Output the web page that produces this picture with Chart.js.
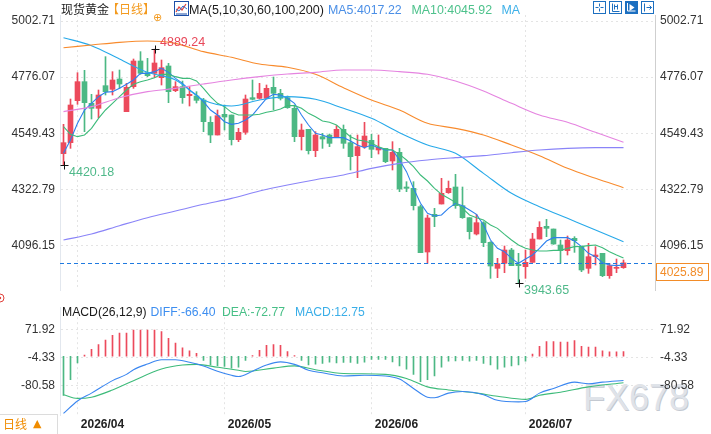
<!DOCTYPE html>
<html><head><meta charset="utf-8">
<script src="https://cdn.jsdelivr.net/npm/chart.js@4.4.1/dist/chart.umd.min.js"></script>
<style>
html,body{margin:0;padding:0;background:#fff;width:711px;height:434px;overflow:hidden;font-family:"Liberation Sans","Noto Sans CJK SC",sans-serif;}
#wrap{position:relative;width:711px;height:434px;}
canvas{position:absolute;left:0;}
.t{position:absolute;font-size:12.4px;line-height:14px;white-space:nowrap;z-index:5;}
.cjk{font-family:"Noto Sans CJK SC",sans-serif;font-size:12px;}
#wm{position:absolute;left:583px;top:379.5px;font-size:36px;line-height:36px;color:#dfe3e9;text-shadow:1px 1px 0 #c4c9d1;z-index:0;font-family:"Liberation Sans",sans-serif;}
#dbox{position:absolute;left:0;top:414px;width:58px;height:20px;border-top:1px solid #dcdcdc;border-right:1px solid #dcdcdc;box-sizing:border-box;z-index:5;}
</style></head>
<body><div id="wrap">
<div id="wm">FX678</div>
<canvas id="price" width="711" height="434" style="top:0"></canvas>
<canvas id="macd" width="711" height="139" style="top:295px"></canvas>

<span class="t cjk" style="left:61px;top:2px;color:#1a1a1a">现货黄金</span>
<span class="t cjk" style="left:107px;top:2px;color:#f39a1e">【日线】</span>
<span class="t" style="left:153px;top:11px;color:#f39a1e;font-size:11px;font-family:'DejaVu Sans'">⊕</span>
<svg style="position:absolute;left:174px;top:1px;z-index:5" width="15" height="15">
  <rect x="0.5" y="0.5" width="14" height="14" fill="#fff" stroke="#1c4fa8"/>
  <polyline points="2,11 5,6 8,9 12,3" fill="none" stroke="#e0403a" stroke-width="1.2"/>
  <polyline points="2,8 5,10 9,5 13,8" fill="none" stroke="#2a6fd0" stroke-width="1"/>
  <line x1="2" y1="13" x2="13" y2="13" stroke="#1c4fa8"/>
</svg>
<span class="t" style="left:189px;top:3px;color:#1a1a1a;font-size:12.5px">MA(5,10,30,60,100,200)</span>
<span class="t" style="left:328px;top:3px;color:#4b8fe6">MA5:4017.22</span>
<span class="t" style="left:411.5px;top:3px;color:#4ec28c">MA10:4045.92</span>
<span class="t" style="left:501.5px;top:3px;color:#3fb1e8">MA</span>

<svg style="position:absolute;left:592px;top:0;z-index:5" width="63" height="15">
  <g fill="none" stroke="#1c6fc0" stroke-width="1">
    <rect x="1.5" y="1.5" width="12" height="12"/>
    <rect x="17.5" y="1.5" width="12" height="12"/>
    <rect x="49.5" y="1.5" width="12" height="12"/>
    <path d="M7.5 3.5v3M7.5 8.5v3M3.5 7.5h3M8.5 7.5h3" />
    <path d="M20.5 3.5v8h7M22.5 4.5v5M25.5 4.5v5M22.5 6.5h3" />
    <path d="M52.5 3.5v8M54.5 7.5h5M57.5 5.5l2 2l-2 2" />
  </g>
  <rect x="33" y="1" width="13" height="13" fill="#1c6fc0"/>
  <path d="M35.5 3v8h8" fill="none" stroke="#fff"/>
  <path d="M37.5 4l5 3.5l-5 3.5z" fill="#fff"/>
</svg>

<svg style="position:absolute;left:0;top:292px;z-index:5" width="6" height="12">
  <circle cx="0" cy="6" r="4" fill="none" stroke="#e0403a"/>
  <circle cx="0" cy="6" r="1.2" fill="#e0403a"/>
</svg>
<span class="t" style="left:62px;top:305px;color:#1a1a1a;font-size:12.2px">MACD(26,12,9)</span>
<span class="t" style="left:150.5px;top:305px;color:#3d8ef0;font-size:12.2px">DIFF:-66.40</span>
<span class="t" style="left:222px;top:305px;color:#47bf86;font-size:12.2px">DEA:-72.77</span>
<span class="t" style="left:295px;top:305px;color:#3aaee8;font-size:12.2px">MACD:12.75</span>

<div id="dbox"></div>
<span class="t cjk" style="left:3px;top:417px;color:#f08c00">日线</span>
<span class="t" style="left:33px;top:417px;color:#f08c00;font-size:11px;font-family:'DejaVu Sans'">▲</span>
</div>
<script>
// ---------- categories (trading days) ----------
const dates = [];
(function () {
  let t = Date.UTC(2026, 2, 30);
  const end = Date.UTC(2026, 6, 21);
  while (t <= end) {
    const d = new Date(t);
    const wd = d.getUTCDay();
    const s = d.toISOString().slice(0, 10);
    if (wd !== 0 && wd !== 6 && s !== '2026-04-03') dates.push(s);
    t += 86400000;
  }
})();
const padLabels = ['p1', 'p2', 'p3', 'p4'];
const labels = dates.concat(padLabels);

// ---------- price data ----------
const opens = [4467.0,4511.4,4681.1,4757.9,4670.3,4650.1,4741.7,4726.9,4768.6,4636.7,
4737.7,4841.4,4794.2,4791.5,4774.0,4821.2,4721.5,4737.7,4701.3,4700.0,
4683.8,4593.6,4542.4,4625.9,4623.2,4523.5,4553.2,4693.2,4690.5,4690.5,
4735.0,4710.7,4693.2,4650.1,4535.7,4565.3,4479.1,4535.7,4542.4,4535.7,
4565.3,4511.4,4458.9,4495.3,4520.8,4481.8,4488.5,4437.4,4472.4,4332.3,
4326.9,4252.9,4069.7,4221.9,4263.6,4309.4,4332.3,4256.9,4208.4,4142.4,
4188.2,4108.8,4003.7,4023.9,4077.8,4019.9,4010.4,4027.9,4122.2,4173.4,
4162.6,4098.0,4075.1,4124.9,4092.6,4003.7,4050.8,4064.3,3974.1,4003.7,
4006.4];
const highs = [4585.5,4687.8,4794.2,4803.6,4706.7,4724.2,4858.9,4798.3,4805.0,4751.1,
4849.4,4879.1,4852.1,4889.24,4845.4,4831.9,4757.9,4760.5,4737.7,4717.5,
4690.5,4616.5,4643.4,4663.6,4623.2,4569.3,4704.0,4764.6,4751.1,4744.4,
4776.7,4726.9,4700.0,4663.6,4586.8,4565.3,4555.9,4549.1,4546.4,4580.1,
4582.8,4542.4,4542.4,4593.6,4545.1,4542.4,4488.5,4515.5,4488.5,4353.8,
4353.8,4259.6,4219.2,4246.1,4367.3,4356.5,4383.5,4332.3,4208.4,4221.9,
4192.2,4111.5,4044.1,4093.9,4084.5,4064.3,4077.8,4145.1,4192.2,4201.7,
4162.6,4118.2,4134.3,4131.7,4092.6,4104.7,4091.3,4064.3,4023.9,4041.4,
4037.4];
const lows = [4420.18,4488.5,4666.3,4555.9,4607.0,4612.4,4704.0,4704.0,4730.9,4636.7,
4730.9,4787.5,4778.1,4774.0,4744.4,4673.0,4717.5,4670.3,4659.5,4671.7,
4555.9,4511.4,4542.4,4562.6,4502.0,4515.5,4545.1,4683.8,4687.8,4687.8,
4643.4,4683.8,4650.1,4515.5,4481.8,4465.6,4454.9,4488.5,4495.3,4531.6,
4488.5,4401.0,4370.0,4488.5,4450.8,4465.6,4430.6,4401.0,4313.4,4313.4,
4239.4,4067.0,4023.9,4172.0,4263.6,4306.7,4246.1,4205.7,4122.2,4138.4,
4091.3,3963.3,3966.0,3986.2,4014.5,3943.65,3963.3,4027.9,4122.2,4131.7,
4100.7,4023.9,4057.6,4068.3,3990.2,3983.5,4017.2,3970.1,3963.3,3986.2,
4003.7];
const closes = [4511.4,4663.6,4757.9,4673.0,4650.1,4704.0,4717.5,4764.6,4748.4,4735.0,
4841.4,4791.5,4782.1,4833.3,4814.4,4717.5,4737.7,4693.2,4706.7,4682.4,
4596.3,4542.4,4620.5,4615.1,4523.5,4553.2,4687.8,4686.5,4710.7,4730.9,
4710.7,4690.5,4652.8,4535.7,4562.6,4479.1,4542.4,4526.2,4508.7,4565.3,
4508.7,4454.9,4495.3,4538.3,4484.5,4492.6,4434.7,4472.4,4324.2,4326.9,
4256.9,4067.0,4207.1,4212.4,4306.7,4326.9,4256.9,4208.4,4151.8,4188.2,
4107.4,4013.1,4022.5,4077.8,4014.5,4014.5,4027.9,4122.2,4169.4,4165.3,
4102.0,4075.1,4118.2,4115.5,3997.0,4050.8,4057.6,3974.1,4014.5,4006.4,
4025.89];

// ---------- moving averages ----------
const ma5 = [4468.3,4522.2,4589.5,4643.4,4670.3,4697.3,4714.8,4717.5,4730.9,4747.1,
4764.6,4791.5,4791.5,4798.3,4811.7,4795.6,4771.3,4751.1,4724.2,4704.0,
4677.1,4643.4,4623.2,4596.3,4585.5,4589.5,4603.0,4623.2,4656.9,4690.5,
4706.7,4704.0,4690.5,4670.3,4623.2,4582.8,4549.1,4542.4,4531.6,4531.6,
4531.6,4518.1,4502.0,4491.2,4502.0,4491.2,4481.8,4481.8,4441.4,4394.3,
4326.9,4266.3,4225.9,4215.1,4219.2,4246.1,4266.3,4256.9,4239.4,4221.9,
4178.8,4118.2,4084.5,4071.1,4044.1,4023.9,4041.4,4057.6,4084.5,4114.1,
4127.6,4127.6,4127.6,4114.1,4091.3,4064.3,4050.8,4026.6,4017.2,4014.5,
4017.22];
const ma10 = [4576.1,4545.1,4535.7,4542.4,4569.3,4609.7,4643.4,4670.3,4697.3,4724.2,
4747.1,4757.9,4764.6,4774.0,4787.5,4787.5,4778.1,4771.3,4771.3,4760.6,
4730.9,4697.3,4670.3,4656.9,4634.0,4623.2,4623.2,4623.2,4625.9,4634.0,
4639.4,4647.4,4660.9,4660.9,4650.1,4629.9,4616.5,4599.0,4593.6,4582.8,
4558.5,4535.7,4522.2,4518.1,4508.7,4495.3,4484.5,4481.8,4464.3,4441.4,
4414.5,4380.8,4356.5,4326.9,4302.7,4286.5,4270.4,4246.1,4219.2,4208.4,
4199.0,4178.8,4165.3,4141.1,4118.2,4098.0,4084.5,4077.8,4073.7,4073.7,
4076.4,4076.4,4084.5,4091.3,4092.6,4095.3,4098.0,4087.2,4071.1,4057.6,
4045.92];
const maIdx = [0,4,8,12,16,20,24,28,32,36,40,44,48,52,56,60,64,68,72,76,80];
const ma30 = [4935.6,4903.3,4849.4,4795.6,4764.6,4683.8,4659.6,4683.8,4697.3,4686.5,4650.1,4609.7,4551.8,4502.0,4468.3,4387.5,4306.7,4252.8,4205.7,4158.6,4111.4];
const ma60 = [4895.2,4906.0,4916.8,4922.2,4912.7,4879.1,4856.2,4829.2,4815.8,4787.5,4733.6,4683.8,4643.4,4589.5,4569.3,4542.4,4502.0,4458.9,4407.7,4367.3,4329.6];
const ma100 = [4636.7,4656.9,4693.2,4717.5,4730.9,4748.4,4764.6,4778.1,4788.8,4795.6,4805.0,4805.0,4798.3,4787.5,4760.6,4720.2,4670.3,4623.2,4593.6,4553.2,4512.8];
const ma200 = [4118.2,4142.4,4176.1,4208.4,4235.3,4262.3,4286.5,4316.1,4340.4,4361.9,4380.8,4407.7,4427.9,4441.4,4450.8,4458.9,4471.0,4481.8,4488.5,4491.2,4491.2];

// ---------- MACD ----------
const macdHist = [-107.0,-64.2,-18.0,3.4,18.8,31.7,44.5,57.3,63.3,63.3,
71.9,71.9,71.9,71.9,67.6,48.8,35.9,23.1,14.5,7.7,
-11.1,-24.0,-26.5,-28.2,-32.5,-29.9,-11.1,1.7,16.3,29.9,
31.7,29.9,12.8,1.7,-11.1,-24.0,-21.4,-19.7,-16.3,-18.0,
-17.1,-17.1,-19.7,-16.3,-8.6,-8.6,-8.6,-15.4,-26.5,-35.1,
-49.6,-69.3,-64.2,-53.9,-29.9,-13.7,-12.8,-11.1,-13.7,-11.1,
-19.7,-24.0,-35.1,-29.9,-26.5,-24.0,-13.7,6.0,27.4,40.2,
40.2,38.5,38.5,42.8,27.4,24.8,24.8,14.5,12.0,12.0,
12.75];
const diffIdx = [0,2,4,7,9,10,12,14,16,18,20,22,24,25,27,29,31,33,35,37,40,43,46,48,50,52,53,55,57,60,62,65,66,68,70,73,75,77,80];
const diffVal = [-156.6,-122.4,-101.0,-66.8,-49.6,-36.8,-21.4,-9.4,-9.4,-16.3,-26.5,-41.1,-52.2,-55.6,-41.1,-24.0,-15.4,-22.3,-38.5,-45.4,-53.9,-52.2,-53.9,-62.5,-88.2,-112.1,-113.8,-101.0,-96.7,-105.3,-120.7,-125.0,-124.1,-101.0,-88.2,-71.0,-75.3,-71.0,-66.40];
const deaIdx = [0,2,4,7,10,14,17,19,22,25,26,30,33,36,40,46,49,52,55,59,62,66,68,71,75,80];
const deaVal = [-105.3,-115.5,-112.1,-92.4,-66.8,-35.1,-24.0,-22.3,-30.0,-38.5,-41.9,-32.5,-26.5,-36.8,-47.1,-49.6,-60.8,-83.9,-92.4,-101.0,-109.5,-118.1,-107.0,-98.4,-83.9,-72.77];

// ---------- tick labels ----------
const priceTicks = [5002.71, 4776.07, 4549.43, 4322.79, 4096.15];
const macdTicks = [71.92, -4.33, -80.58];

// ---------- helpers ----------
const FONT = '"Liberation Sans", "Noto Sans CJK SC", sans-serif';
Chart.defaults.font.family = FONT;
Chart.defaults.font.size = 12;
Chart.defaults.color = '#333';
const UP = '#ec4a5c', DOWN = '#4cb884';
const candleColor = closes.map((c, i) => c >= opens[i] ? UP : DOWN);
const monthStarts = [];
for (let i = 1; i < dates.length; i++) if (dates[i].slice(5, 7) !== dates[i - 1].slice(5, 7)) monthStarts.push(i);
const monthLabel = s => s.slice(0, 4) + '/' + s.slice(5, 7);
const sp = (idx, vals) => idx.map((k, j) => ({ x: labels[k], y: vals[j] }));
const lastPrice = closes[closes.length - 1];
const GRID = '#e4e4e4';

const xBase = (showTicks) => ({
  type: 'category', offset: true,
  grid: { offset: false, color: GRID, drawTicks: false },
  border: { display: false, dash: [2, 3] },
  afterBuildTicks: s => { s.ticks = monthStarts.map(v => ({ value: v })); },
  ticks: showTicks ? {
    display: true, autoSkip: false, maxRotation: 0, align: 'start', padding: 2,
    color: '#222', font: { size: 12, weight: 'bold', family: FONT },
    callback: v => ' ' + monthLabel(labels[v])
  } : { display: false },
  afterFit: s => { s.height = showTicks ? 19 : 0; }
});
const yAxis = (pos, min, max, tickVals, gridOn) => ({
  position: pos, min, max,
  afterBuildTicks: s => { s.ticks = tickVals.map(v => ({ value: v })); },
  afterFit: s => { s.width = pos === 'left' ? 60 : 56; },
  ticks: { padding: 5, color: '#333', font: { size: 12, family: FONT }, callback: v => Number(v).toFixed(2) },
  grid: { display: gridOn, color: GRID, drawTicks: false },
  border: pos === 'left' ? { display: true, color: '#e2e7ee', dash: [2, 3] } : { display: true, color: '#cfcfcf', dash: [1, 3] }
});

// ---------- price chart plugin: last price line, label box, extreme markers ----------
const priceMarks = {
  id: 'priceMarks',
  afterDatasetsDraw(chart) {
    const { ctx, chartArea: a, scales } = chart;
    const x = scales.x, y = scales.y;
    ctx.save();
    const ly = Math.round(y.getPixelForValue(lastPrice)) + 0.5;
    ctx.strokeStyle = '#1f7ae0'; ctx.lineWidth = 1; ctx.setLineDash([4, 3]);
    ctx.beginPath(); ctx.moveTo(a.left, ly); ctx.lineTo(a.right, ly); ctx.stroke();
    ctx.setLineDash([]);
    ctx.strokeStyle = '#f28c28';
    ctx.strokeRect(a.right + 1.5, ly, 52, 17);
    ctx.fillStyle = '#f28c28'; ctx.font = '12px ' + FONT; ctx.textBaseline = 'middle'; ctx.textAlign = 'left';
    ctx.fillText(lastPrice.toFixed(2), a.right + 5, ly + 9);

    const mark = (i, v, dy, color) => {
      const px = Math.round(x.getPixelForValue(i)) + 0.5;
      const py = Math.round(y.getPixelForValue(v)) + 0.5;
      ctx.strokeStyle = '#111'; ctx.lineWidth = 1;
      ctx.beginPath(); ctx.moveTo(px - 4, py); ctx.lineTo(px + 4, py);
      ctx.moveTo(px, py - 4); ctx.lineTo(px, py + 4); ctx.stroke();
      ctx.fillStyle = color; ctx.font = '12.5px ' + FONT;
      ctx.fillText(v.toFixed(2), px + 4.5, py + dy);
    };
    const iMax = highs.indexOf(Math.max(...highs));
    const iMin = lows.indexOf(Math.min(...lows));
    mark(iMax, highs[iMax], -7, '#e8485a');
    mark(0, lows[0], 7.5, '#4fb98a');
    mark(iMin, lows[iMin], 7, '#4fb98a');
    ctx.restore();
  }
};

const lineDs = (label, data, color, extra) => Object.assign({
  type: 'line', label, data, borderColor: color, borderWidth: 1.1, pointRadius: 0,
  fill: false, order: 0, yAxisID: 'y'
}, extra || {});
const smooth = { spanGaps: true, cubicInterpolationMode: 'monotone' };

new Chart(document.getElementById('price'), {
  type: 'bar',
  data: {
    labels,
    datasets: [
      lineDs('MA200', sp(maIdx, ma200), '#8a84f8', smooth),
      lineDs('MA100', sp(maIdx, ma100), '#e584e0', smooth),
      lineDs('MA60', sp(maIdx, ma60), '#f88b2d', smooth),
      lineDs('MA30', sp(maIdx, ma30), '#27a9e9', smooth),
      lineDs('MA10', ma10, '#3dbb7a'),
      lineDs('MA5', ma5, '#2d80ee'),
      { label: 'body', data: opens.map((o, i) => [o, closes[i]]), backgroundColor: candleColor,
        barThickness: 5, grouped: false, minBarLength: 1, borderWidth: 0, order: 5, yAxisID: 'y' },
      { label: 'wick', data: lows.map((l, i) => [l, highs[i]]), backgroundColor: candleColor,
        barThickness: 1, grouped: false, borderWidth: 0, order: 6, yAxisID: 'y' }
    ]
  },
  options: {
    responsive: false, animation: false, events: [],
    layout: { padding: { top: 15, bottom: 144, left: 0, right: 0 } },
    plugins: { legend: { display: false }, tooltip: { enabled: false } },
    scales: {
      x: xBase(false),
      y: yAxis('left', 3916.2, 5027.2, priceTicks, true),
      yR: yAxis('right', 3916.2, 5027.2, priceTicks, false)
    }
  },
  plugins: [priceMarks]
});

new Chart(document.getElementById('macd'), {
  type: 'bar',
  data: {
    labels,
    datasets: [
      { type: 'line', label: 'DIFF', data: sp(diffIdx, diffVal), borderColor: '#3a86f0', borderWidth: 1.1,
        pointRadius: 0, order: 0, yAxisID: 'y', spanGaps: true, cubicInterpolationMode: 'monotone' },
      { type: 'line', label: 'DEA', data: sp(deaIdx, deaVal), borderColor: '#3dbb7a', borderWidth: 1.1,
        pointRadius: 0, order: 1, yAxisID: 'y', spanGaps: true, cubicInterpolationMode: 'monotone' },
      { label: 'MACD', data: macdHist, backgroundColor: macdHist.map(v => v >= 0 ? UP : DOWN),
        barThickness: 1, borderWidth: 0, order: 2, yAxisID: 'y' }
    ]
  },
  options: {
    responsive: false, animation: false, events: [],
    layout: { padding: { top: 5, bottom: 0, left: 0, right: 0 } },
    plugins: { legend: { display: false }, tooltip: { enabled: false } },
    scales: {
      x: xBase(true),
      y: yAxis('left', -160.9, 134.3, macdTicks, true),
      yR: Object.assign(yAxis('right', -160.9, 134.3, macdTicks, false), { border: { display: false } })
    }
  }
});
</script>
</body></html>
